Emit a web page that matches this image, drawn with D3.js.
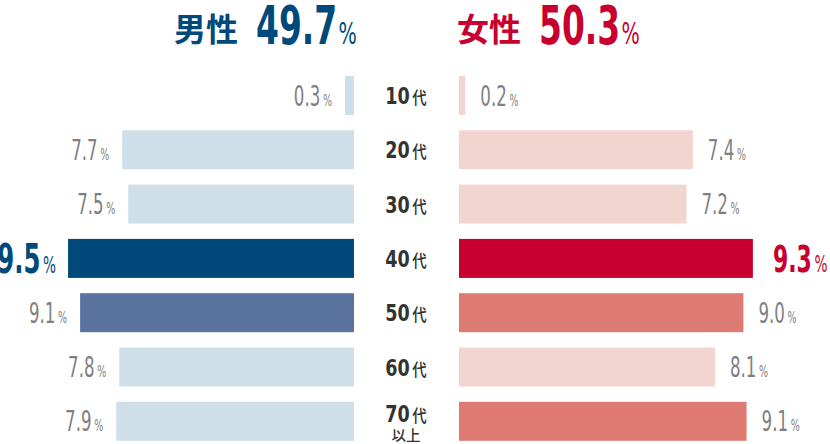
<!DOCTYPE html>
<html><head><meta charset="utf-8">
<script src="https://cdn.jsdelivr.net/npm/d3@7/dist/d3.min.js"></script>
<style>
html,body{margin:0;padding:0;background:#fff;}
svg{display:block;}
</style></head>
<body><svg id="c" width="830" height="444"></svg>
<script>
const categories = ["10代","20代","30代","40代","50代","60代","70代以上"];
const maleValues = [0.3, 7.7, 7.5, 9.5, 9.1, 7.8, 7.9];
const femaleValues = [0.2, 7.4, 7.2, 9.3, 9.0, 8.1, 9.1];
const maleTotal = "49.7";
const femaleTotal = "50.3";
const maleTitle = "男性";
const femaleTitle = "女性";

const NUMF = "'Liberation Sans Narrow','DejaVu Sans Condensed','Roboto',sans-serif";
const CJK = "'Noto Sans CJK JP','Noto Sans',sans-serif";
const GRAY = "#808080";
const male = {dark:"#004a7b", mid:"#5a739e", light:"#cfdfe9"};
const female = {dark:"#c7002f", mid:"#dd7a71", light:"#f3d5cf"};

const svg = d3.select("#c");

const y = d3.scaleBand().domain(categories).range([76, 440.8]).paddingInner(0.282).paddingOuter(0);
const xL = d3.scaleLinear().domain([0, 10]).range([354, 354 - 301]);
const xR = d3.scaleLinear().domain([0, 10]).range([459, 459 + 316]);

function tier(v, arr, pal){
  const mx = d3.max(arr);
  if (v === mx) return pal.dark;
  if (v >= 9) return pal.mid;
  return pal.light;
}

// bars
svg.append("g").selectAll("rect").data(maleValues).join("rect")
  .attr("x", d => xL(d)).attr("width", d => xL(0) - xL(d))
  .attr("y", (d,i) => y(categories[i])).attr("height", y.bandwidth())
  .attr("fill", d => tier(d, maleValues, male));
svg.append("g").selectAll("rect").data(femaleValues).join("rect")
  .attr("x", xR(0)).attr("width", d => xR(d) - xR(0))
  .attr("y", (d,i) => y(categories[i])).attr("height", y.bandwidth())
  .attr("fill", d => tier(d, femaleValues, female));

// value labels
function valueLabel(side, d, i, arr, pal){
  const isMax = d === d3.max(arr);
  const cy = y(categories[i]) + y.bandwidth()/2;
  const numSize = isMax ? (side==="L" ? 41 : 37) : 28;
  const pctSize = isMax ? 23 : 16;
  const sx = 0.66;
  const gap = side === "L" ? (isMax ? 12 : 13) : (isMax ? 20 : 15);
  const xa = side === "L" ? xL(d) - gap : xR(d) + gap;
  const g = svg.append("g").attr("transform", `translate(${xa},${cy + numSize*0.36}) scale(${sx},1)`);
  const t = g.append("text")
    .attr("text-anchor", side === "L" ? "end" : "start")
    .attr("font-family", NUMF)
    .attr("fill", isMax ? pal.dark : GRAY);
  t.append("tspan").attr("font-size", numSize).attr("font-weight", isMax ? "bold" : "normal").text(d.toFixed(1));
  t.append("tspan").attr("font-size", pctSize).attr("dx", 4).text("%");
}
maleValues.forEach((d,i) => valueLabel("L", d, i, maleValues, male));
femaleValues.forEach((d,i) => valueLabel("R", d, i, femaleValues, female));

// category labels
categories.forEach((c, i) => {
  const m = c.match(/^(\d+)(代)(.*)$/);
  const cy = y(c) + y.bandwidth()/2;
  const extra = m[3];
  const base = extra ? cy + 1 : cy + 8.5;
  const g = svg.append("g").attr("transform", `translate(406,${base}) scale(0.85,1)`);
  const t = g.append("text").attr("text-anchor", "middle").attr("fill", "#333");
  t.append("tspan").attr("font-family", NUMF).attr("font-weight", "bold").attr("font-size", 23).text(m[1]);
  t.append("tspan").attr("font-family", CJK).attr("font-weight", "500").attr("font-size", 17).attr("dx", 3).text(m[2]);
  if (extra) {
    svg.append("text").attr("text-anchor", "middle").attr("x", 406).attr("y", base + 19)
      .attr("font-family", CJK).attr("font-weight", "500").attr("font-size", 14.5)
      .attr("fill", "#333").text(extra);
  }
});

// headers
function header(xTitle, title, total, color){
  svg.append("text").attr("x", xTitle).attr("y", 41)
    .attr("font-family", CJK).attr("font-weight", "bold").attr("font-size", 32)
    .attr("fill", color).text(title);
  const g = svg.append("g").attr("transform", `translate(${xTitle + 82},44) scale(0.69,1)`);
  const t = g.append("text").attr("font-family", NUMF).attr("font-weight", "bold").attr("fill", color);
  t.append("tspan").attr("font-size", 53).text(total);
  t.append("tspan").attr("font-size", 31).attr("dx", 2).attr("font-weight", "normal").text("%");
}
header(174, maleTitle, maleTotal, male.dark);
header(457, femaleTitle, femaleTotal, female.dark);
</script></body></html>
